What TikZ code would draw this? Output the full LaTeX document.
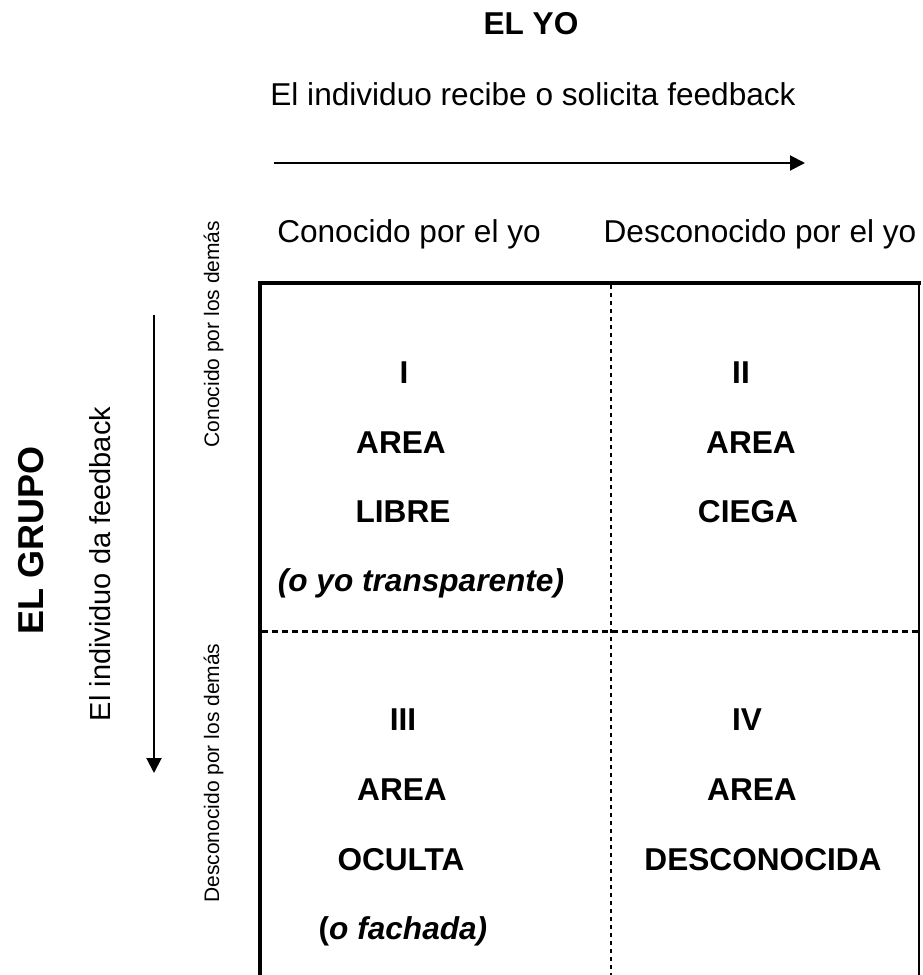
\documentclass[tikz,border=0pt]{standalone}
\usepackage{fontspec}
\setmainfont{Liberation Sans}
\usetikzlibrary{arrows.meta}
\tikzset{
  txt/.style={inner sep=0pt, anchor=base, font=\fontsize{31.6}{38}\selectfont},
  btxt/.style={inner sep=0pt, anchor=base, font=\fontsize{31.6}{38}\selectfont\bfseries},
  bitxt/.style={inner sep=0pt, anchor=base, font=\fontsize{31.6}{38}\selectfont\bfseries\itshape},
  small/.style={inner sep=0pt, anchor=base, rotate=90, font=\fontsize{21}{25}\selectfont},
  arr/.style={line width=2pt, -{Triangle[length=15pt,width=15pt]}},
  frame/.style={line width=4pt},
  thinframe/.style={line width=2pt},
  hdash/.style={line width=3pt, dash pattern=on 6pt off 4pt},
  vdash/.style={line width=2pt, dash pattern=on 4pt off 4pt}
}
\begin{document}
\begin{tikzpicture}[x=1pt,y=-1pt]
\useasboundingbox (0,0) rectangle (923,975);
\clip (0,0) rectangle (923,975);
% top labels
\node[btxt] (yo) at (531,34) {EL YO};
\node[txt] (recibe) at (533,105) {El individuo recibe o solicita feedback};
\coordinate (ha) at (274,163);
\coordinate (hb) at (805,163);
\draw[arr] (ha) -- (hb);
\node[txt] (cy) at (409,242) {Conocido por el yo};
\node[txt] (dy) at (760,242) {Desconocido por el yo};
% left labels
\node[small] (cd) at (219,334) {Conocido por los demás};
\node[small] (dd) at (219,773) {Desconocido por los demás};
\node[txt, rotate=90, font=\fontsize{29}{35}\selectfont] (da) at (110,564) {El individuo da feedback};
\node[btxt, rotate=90, font=\fontsize{36}{43}\selectfont\bfseries] (grupo) at (43,540) {EL GRUPO};
\coordinate (va) at (154,315);
\coordinate (vb) at (154,773);
\draw[arr] (va) -- (vb);
% frame
\coordinate (bl) at (260,1000);
\coordinate (tl) at (260,283);
\coordinate (tr) at (919,283);
\coordinate (br) at (919,1000);
\coordinate (mt) at (611,285);
\coordinate (mb) at (611,1000);
\coordinate (ml) at (262,631);
\coordinate (mr) at (919,631);
\draw[vdash] (mt) -- (mb);
\draw[hdash] (ml) -- (mr);
\draw[frame, line cap=rect] (bl) -- (tl) -- (tr);
\draw[thinframe] (tr) -- (br);
% quadrant I
\node[btxt] (q1a) at (404,383) {I};
\node[btxt] (q1b) at (401,453) {AREA};
\node[btxt] (q1c) at (403,522) {LIBRE};
\node[bitxt] (q1d) at (421,591) {(o yo transparente)};
% quadrant II
\node[btxt] (q2a) at (741,383) {II};
\node[btxt] (q2b) at (751,453) {AREA};
\node[btxt] (q2c) at (748,522) {CIEGA};
% quadrant III
\node[btxt] (q3a) at (403,730) {III};
\node[btxt] (q3b) at (402,800) {AREA};
\node[btxt] (q3c) at (401,870) {OCULTA};
\node[btxt] (q3d) at (403,939) {(\textit{o fachada)}};
% quadrant IV
\node[btxt] (q4a) at (747,730) {IV};
\node[btxt] (q4b) at (752,800) {AREA};
\node[btxt] (q4c) at (763,870) {DESCONOCIDA};
\end{tikzpicture}
\end{document}
